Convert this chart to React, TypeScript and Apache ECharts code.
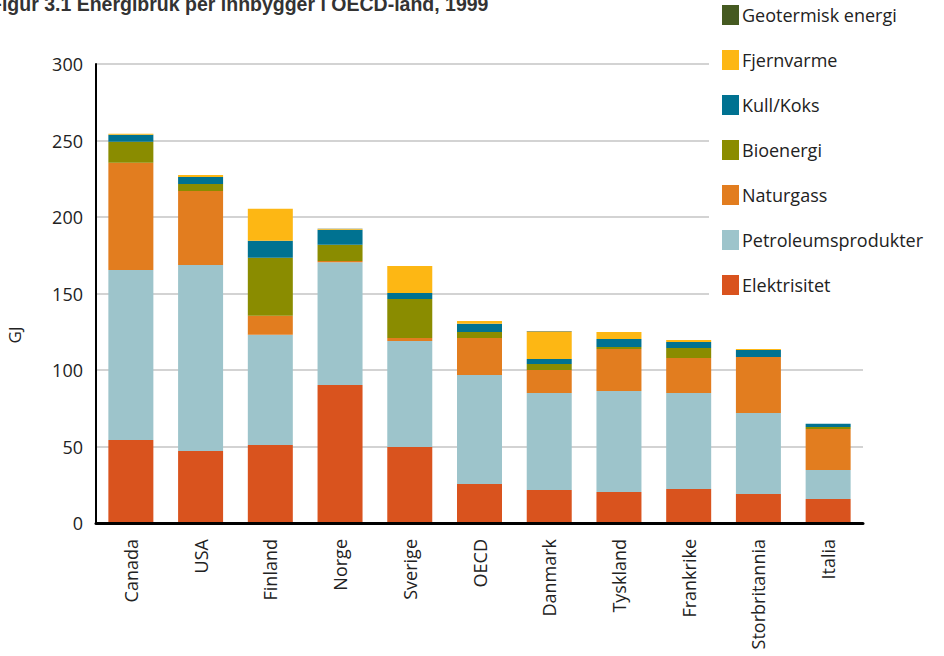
import React, { useEffect, useRef } from "react";
import * as echarts from "echarts";

const categories = ["Canada", "USA", "Finland", "Norge", "Sverige", "OECD", "Danmark", "Tyskland", "Frankrike", "Storbritannia", "Italia"];
const elektrisitet = [54.2, 47.1, 51.0, 90.2, 49.7, 25.5, 21.6, 20.3, 22.2, 19.0, 15.7];
const petroleum = [111.2, 121.5, 72.0, 80.2, 69.2, 71.2, 63.4, 66.0, 62.8, 52.9, 19.0];
const naturgass = [70.1, 48.4, 12.4, 0.9, 2.0, 24.2, 15.0, 27.5, 22.9, 36.6, 26.8];
const bioenergi = [13.7, 4.6, 38.0, 10.5, 25.5, 3.9, 3.9, 1.3, 6.5, 0, 1.3];
const kullKoks = [4.6, 4.5, 11.0, 9.8, 3.9, 5.5, 3.3, 5.2, 3.9, 4.6, 2.0];
const fjernvarme = [0.6, 1.4, 21.0, 0.5, 17.7, 1.7, 17.8, 4.6, 1.3, 0.6, 0];
const geotermisk = [0, 0, 0, 0.3, 0, 0, 0.3, 0, 0, 0, 0];
const yTicks = [0, 50, 100, 150, 200, 250, 300];

const seriesDefs = [
  { name: "Elektrisitet", data: elektrisitet, color: "#d9531e" },
  { name: "Petroleumsprodukter", data: petroleum, color: "#9dc4cb" },
  { name: "Naturgass", data: naturgass, color: "#e27d1f" },
  { name: "Bioenergi", data: bioenergi, color: "#8a8c00" },
  { name: "Kull/Koks", data: kullKoks, color: "#007291" },
  { name: "Fjernvarme", data: fjernvarme, color: "#fdb714" },
  { name: "Geotermisk energi", data: geotermisk, color: "#455a21" },
];

const FONT = "Open Sans";

export default function App() {
  const ref = useRef<HTMLDivElement>(null);
  useEffect(() => {
    if (!ref.current) return;
    const chart = echarts.init(ref.current, undefined, { renderer: "svg" });
    chart.setOption({
      animation: false,
      backgroundColor: "#fff",
      grid: { left: 96, right: 81, top: 64, bottom: 133, containLabel: false },
      legend: {
        left: 709,
        top: 0,
        orient: "vertical",
        backgroundColor: "#fff",
        padding: [5, 10, 5, 13],
        itemWidth: 17,
        itemHeight: 20,
        itemGap: 25,
        icon: "rect",
        data: seriesDefs.map((s) => s.name).reverse(),
        textStyle: { fontFamily: FONT, fontSize: 18, color: "#222", padding: [0, 0, 0, -2] },
      },
      xAxis: {
        type: "category",
        data: categories,
        axisLine: { show: true, lineStyle: { color: "#000", width: 3 } },
        axisTick: { show: false },
        axisLabel: { rotate: 90, fontFamily: FONT, fontSize: 18, color: "#222", margin: 16, interval: 0 },
        z: 10,
      },
      yAxis: {
        type: "value",
        min: yTicks[0],
        max: yTicks[yTicks.length - 1],
        interval: 50,
        axisLine: { show: true, lineStyle: { color: "#000", width: 2 } },
        axisTick: { show: false },
        axisLabel: { fontFamily: FONT, fontSize: 18, color: "#222", margin: 13 },
        splitLine: { show: true, lineStyle: { color: "#c4c4c4", width: 1.5 } },
      },
      graphic: [
        {
          type: "text",
          left: -10,
          top: -6,
          style: {
            text: "Figur 3.1 Energibruk per innbygger i OECD-land, 1999",
            fontFamily: "Liberation Sans",
            fontWeight: "bold",
            fontSize: 19.5,
            fill: "#333",
          },
        },
        {
          type: "text",
          x: 14,
          y: 335,
          rotation: Math.PI / 2,
          style: {
            text: "GJ",
            fontFamily: FONT,
            fontSize: 17,
            fill: "#222",
            align: "center",
            verticalAlign: "middle",
          },
        },
      ],
      series: seriesDefs.map((s) => ({
        name: s.name,
        type: "bar",
        stack: "total",
        data: s.data,
        barWidth: 45,
        itemStyle: { color: s.color },
      })),
    });
    return () => chart.dispose();
  }, []);
  return <div ref={ref} style={{ width: 944, height: 656, position: "absolute", left: 0, top: 0 }} />;
}
